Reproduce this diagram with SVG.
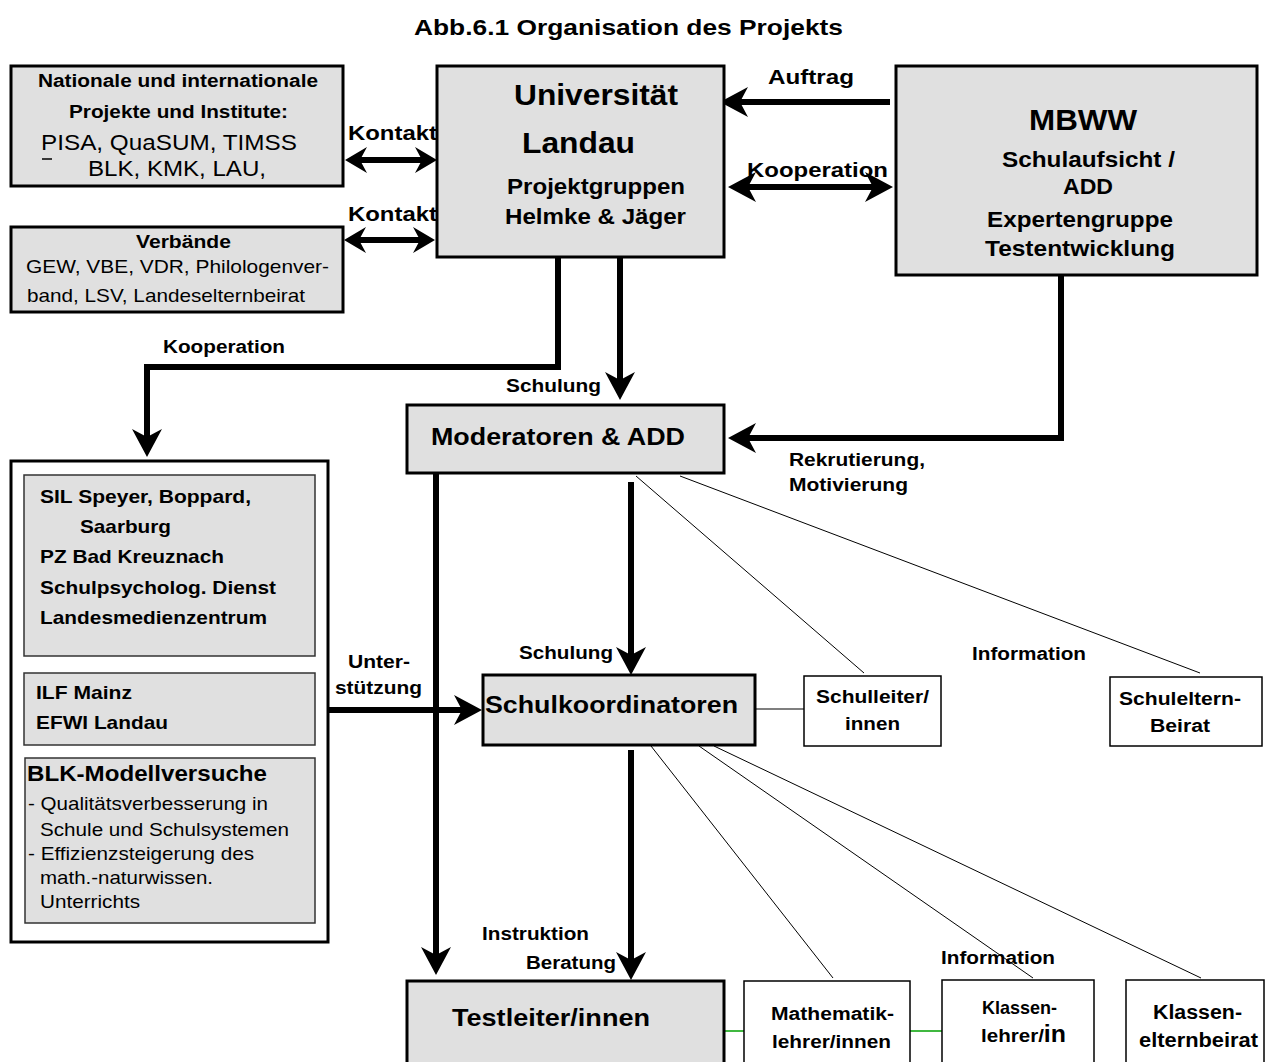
<svg xmlns="http://www.w3.org/2000/svg" width="1269" height="1062" viewBox="0 0 1269 1062">
<style>
text{font-family:"Liberation Sans",Arial,sans-serif;fill:#000}
.b{font-weight:bold}
.g{fill:#e0e0e0;stroke:#000;stroke-width:3}
.gi{fill:#e0e0e0;stroke:#333;stroke-width:1.5}
.w{fill:#fff;stroke:#000;stroke-width:3}
.wt{fill:#fff;stroke:#000;stroke-width:1.5}
.c{fill:none;stroke:#000;stroke-width:6}
.t{fill:none;stroke:#000;stroke-width:1}
</style>
<defs>
<marker id="ah" viewBox="0 0 28 30" refX="14" refY="15" markerWidth="28" markerHeight="30" markerUnits="userSpaceOnUse" orient="auto-start-reverse">
<path d="M0,0 L28,15 L0,30 L8,15 Z" fill="#000"/>
</marker>
<marker id="as" viewBox="0 0 22 26" refX="11" refY="13" markerWidth="22" markerHeight="26" markerUnits="userSpaceOnUse" orient="auto-start-reverse">
<path d="M0,0 L22,13 L0,26 L7,13 Z" fill="#000"/>
</marker>
</defs>
<rect width="1269" height="1062" fill="#fff"/>
<text class="b" x="414" y="35" font-size="22" textLength="429" lengthAdjust="spacingAndGlyphs">Abb.6.1 Organisation des Projekts</text>

<g id="connectors">
<line class="c" x1="356" y1="160" x2="426" y2="160" marker-start="url(#as)" marker-end="url(#as)"/>
<line class="c" x1="355" y1="240" x2="424" y2="240" marker-start="url(#as)" marker-end="url(#as)"/>
<line class="c" x1="890" y1="102" x2="734" y2="102" stroke-width="8" marker-end="url(#ah)"/>
<line class="c" x1="742" y1="187" x2="879" y2="187" marker-start="url(#ah)" marker-end="url(#ah)"/>
<polyline class="c" points="558,257 558,367 147,367 147,443" marker-end="url(#ah)"/>
<line class="c" x1="620" y1="257" x2="620" y2="386" marker-end="url(#ah)"/>
<polyline class="c" points="1061,276 1061,438 742,438" marker-end="url(#ah)"/>
<line class="c" x1="436" y1="473" x2="436" y2="961" marker-end="url(#ah)"/>
<line class="c" x1="631" y1="482" x2="631" y2="661" marker-end="url(#ah)"/>
<line class="c" x1="328" y1="710" x2="468" y2="710" marker-end="url(#ah)"/>
<line class="c" x1="631" y1="750" x2="631" y2="966" marker-end="url(#ah)"/>
<line class="t" x1="636" y1="476" x2="864" y2="673"/>
<line class="t" x1="680" y1="476" x2="1200" y2="673"/>
<line class="t" x1="651" y1="746" x2="833" y2="978"/>
<line class="t" x1="699" y1="746" x2="1033" y2="978"/>
<line class="t" x1="714" y1="746" x2="1201" y2="978"/>
<line x1="755" y1="709" x2="804" y2="709" stroke="#555" stroke-width="1.5"/>
<line x1="724" y1="1031" x2="744" y2="1031" stroke="#00a000" stroke-width="1.5"/>
<line x1="910" y1="1031" x2="942" y2="1031" stroke="#00a000" stroke-width="1.5"/>
<text class="b" x="348" y="140" font-size="20" textLength="89" lengthAdjust="spacingAndGlyphs">Kontakt</text>
<text class="b" x="348" y="221" font-size="20" textLength="89" lengthAdjust="spacingAndGlyphs">Kontakt</text>
<text class="b" x="768" y="84" font-size="20" textLength="86" lengthAdjust="spacingAndGlyphs">Auftrag</text>
<text class="b" x="747" y="177" font-size="20" textLength="141" lengthAdjust="spacingAndGlyphs">Kooperation</text>
<text class="b" x="163" y="353" font-size="18" textLength="122" lengthAdjust="spacingAndGlyphs">Kooperation</text>
<text class="b" x="506" y="392" font-size="18" textLength="95" lengthAdjust="spacingAndGlyphs">Schulung</text>
<text class="b" x="789" y="466" font-size="18" textLength="136" lengthAdjust="spacingAndGlyphs">Rekrutierung,</text>
<text class="b" x="789" y="491" font-size="18" textLength="119" lengthAdjust="spacingAndGlyphs">Motivierung</text>
<text class="b" x="519" y="659" font-size="18" textLength="94" lengthAdjust="spacingAndGlyphs">Schulung</text>
<text class="b" x="972" y="660" font-size="18" textLength="114" lengthAdjust="spacingAndGlyphs">Information</text>
<text class="b" x="348" y="668" font-size="18" textLength="62" lengthAdjust="spacingAndGlyphs">Unter-</text>
<text class="b" x="335" y="694" font-size="18" textLength="87" lengthAdjust="spacingAndGlyphs">stützung</text>
<text class="b" x="482" y="940" font-size="18" textLength="107" lengthAdjust="spacingAndGlyphs">Instruktion</text>
<text class="b" x="526" y="969" font-size="18" textLength="90" lengthAdjust="spacingAndGlyphs">Beratung</text>
<text class="b" x="941" y="964" font-size="18" textLength="114" lengthAdjust="spacingAndGlyphs">Information</text>
</g>

<g id="nationale">
<rect class="g" x="11" y="66" width="332" height="120"/>
<text class="b" x="38" y="87" font-size="18" textLength="280" lengthAdjust="spacingAndGlyphs">Nationale und internationale</text>
<text class="b" x="69" y="118" font-size="18" textLength="219" lengthAdjust="spacingAndGlyphs">Projekte und Institute:</text>
<text x="41" y="150" font-size="22" textLength="256" lengthAdjust="spacingAndGlyphs">PISA, QuaSUM, TIMSS</text>
<line x1="42" y1="159" x2="52" y2="159" stroke="#000" stroke-width="1.5"/>
<text x="88" y="176" font-size="22" textLength="178" lengthAdjust="spacingAndGlyphs">BLK, KMK, LAU,</text>
</g>

<g id="verbaende">
<rect class="g" x="11" y="227" width="332" height="85"/>
<text class="b" x="136" y="248" font-size="18" textLength="95" lengthAdjust="spacingAndGlyphs">Verbände</text>
<text x="26" y="273" font-size="19" textLength="303" lengthAdjust="spacingAndGlyphs">GEW, VBE, VDR, Philologenver-</text>
<text x="27" y="302" font-size="19" textLength="278" lengthAdjust="spacingAndGlyphs">band, LSV, Landeselternbeirat</text>
</g>

<g id="universitaet">
<rect class="g" x="437" y="66" width="287" height="191"/>
<text class="b" x="514" y="105" font-size="30" textLength="164" lengthAdjust="spacingAndGlyphs">Universität</text>
<text class="b" x="522" y="153" font-size="30" textLength="113" lengthAdjust="spacingAndGlyphs">Landau</text>
<text class="b" x="507" y="194" font-size="22" textLength="178" lengthAdjust="spacingAndGlyphs">Projektgruppen</text>
<text class="b" x="505" y="224" font-size="22" textLength="181" lengthAdjust="spacingAndGlyphs">Helmke &amp; Jäger</text>
</g>

<g id="mbww">
<rect class="g" x="896" y="66" width="361" height="209"/>
<text class="b" x="1029" y="130" font-size="30" textLength="108" lengthAdjust="spacingAndGlyphs">MBWW</text>
<text class="b" x="1002" y="167" font-size="22" textLength="173" lengthAdjust="spacingAndGlyphs">Schulaufsicht /</text>
<text class="b" x="1063" y="194" font-size="22" textLength="50" lengthAdjust="spacingAndGlyphs">ADD</text>
<text class="b" x="987" y="227" font-size="22" textLength="186" lengthAdjust="spacingAndGlyphs">Expertengruppe</text>
<text class="b" x="985" y="256" font-size="22" textLength="190" lengthAdjust="spacingAndGlyphs">Testentwicklung</text>
</g>

<g id="institutionen">
<rect class="w" x="11" y="461" width="317" height="481"/>
<rect class="gi" x="24" y="475" width="291" height="181"/>
<text class="b" x="40" y="503" font-size="19" textLength="211" lengthAdjust="spacingAndGlyphs">SIL Speyer, Boppard,</text>
<text class="b" x="80" y="533" font-size="19" textLength="91" lengthAdjust="spacingAndGlyphs">Saarburg</text>
<text class="b" x="40" y="563" font-size="19" textLength="184" lengthAdjust="spacingAndGlyphs">PZ Bad Kreuznach</text>
<text class="b" x="40" y="594" font-size="19" textLength="236" lengthAdjust="spacingAndGlyphs">Schulpsycholog. Dienst</text>
<text class="b" x="40" y="624" font-size="19" textLength="227" lengthAdjust="spacingAndGlyphs">Landesmedienzentrum</text>
<rect class="gi" x="24" y="673" width="291" height="72"/>
<text class="b" x="36" y="699" font-size="19" textLength="96" lengthAdjust="spacingAndGlyphs">ILF Mainz</text>
<text class="b" x="36" y="729" font-size="19" textLength="132" lengthAdjust="spacingAndGlyphs">EFWI Landau</text>
<rect class="gi" x="25" y="758" width="290" height="165"/>
<text class="b" x="27" y="781" font-size="22" textLength="240" lengthAdjust="spacingAndGlyphs">BLK-Modellversuche</text>
<text x="28" y="810" font-size="19" textLength="240" lengthAdjust="spacingAndGlyphs">- Qualitätsverbesserung in</text>
<text x="40" y="836" font-size="19" textLength="249" lengthAdjust="spacingAndGlyphs">Schule und Schulsystemen</text>
<text x="28" y="860" font-size="19" textLength="226" lengthAdjust="spacingAndGlyphs">- Effizienzsteigerung des</text>
<text x="40" y="884" font-size="19" textLength="173" lengthAdjust="spacingAndGlyphs">math.-naturwissen.</text>
<text x="40" y="908" font-size="19" textLength="100" lengthAdjust="spacingAndGlyphs">Unterrichts</text>
</g>

<g id="moderatoren">
<rect class="g" x="407" y="405" width="317" height="68"/>
<text class="b" x="431" y="445" font-size="24" textLength="254" lengthAdjust="spacingAndGlyphs">Moderatoren &amp; ADD</text>
</g>

<g id="schulkoordinatoren">
<rect class="g" x="483" y="675" width="272" height="70"/>
<text class="b" x="485" y="713" font-size="24" textLength="253" lengthAdjust="spacingAndGlyphs">Schulkoordinatoren</text>
</g>

<g id="schulleiter">
<rect class="wt" x="804" y="676" width="137" height="70"/>
<text class="b" x="816" y="703" font-size="18" textLength="113" lengthAdjust="spacingAndGlyphs">Schulleiter/</text>
<text class="b" x="845" y="730" font-size="18" textLength="55" lengthAdjust="spacingAndGlyphs">innen</text>
</g>

<g id="schuleltern">
<rect class="wt" x="1110" y="677" width="152" height="69"/>
<text class="b" x="1119" y="705" font-size="18" textLength="122" lengthAdjust="spacingAndGlyphs">Schuleltern-</text>
<text class="b" x="1150" y="732" font-size="18" textLength="60" lengthAdjust="spacingAndGlyphs">Beirat</text>
</g>

<g id="testleiter">
<rect class="g" x="407" y="981" width="317" height="90"/>
<text class="b" x="452" y="1026" font-size="24" textLength="198" lengthAdjust="spacingAndGlyphs">Testleiter/innen</text>
</g>

<g id="mathematik">
<rect class="wt" x="744" y="981" width="166" height="90"/>
<text class="b" x="771" y="1020" font-size="18" textLength="123" lengthAdjust="spacingAndGlyphs">Mathematik-</text>
<text class="b" x="772" y="1048" font-size="18" textLength="119" lengthAdjust="spacingAndGlyphs">lehrer/innen</text>
</g>

<g id="klassenlehrer">
<rect class="wt" x="942" y="980" width="152" height="90"/>
<text class="b" x="982" y="1014" font-size="19" textLength="75" lengthAdjust="spacingAndGlyphs">Klassen-</text>
<text class="b" x="981" y="1042" font-size="19" textLength="85" lengthAdjust="spacingAndGlyphs">lehrer/<tspan font-size="23">in</tspan></text>
</g>

<g id="klasseneltern">
<rect class="wt" x="1126" y="980" width="138" height="90"/>
<text class="b" x="1153" y="1019" font-size="20" textLength="89" lengthAdjust="spacingAndGlyphs">Klassen-</text>
<text class="b" x="1139" y="1047" font-size="20" textLength="119" lengthAdjust="spacingAndGlyphs">elternbeirat</text>
</g>
</svg>
